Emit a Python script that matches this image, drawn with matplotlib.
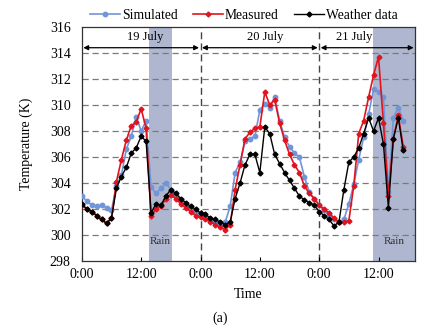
import matplotlib
matplotlib.use("Agg")
import matplotlib.pyplot as plt
import numpy as np

plt.rcParams['font.family'] = ['Liberation Serif', 'DejaVu Serif']

# hourly readings, hour 0 = 0:00 on 19 July
hours = np.arange(66)

weather = [302.4, 302.0, 301.8, 301.5, 301.2, 300.9, 301.3, 303.6, 304.5, 305.2,
           306.3, 306.7, 307.6, 307.2, 301.7, 302.4, 302.3, 303.0, 303.5, 303.2,
           302.8, 302.5, 302.2, 302.0, 301.7, 301.6, 301.3, 301.2, 301.0, 300.8,
           301.0, 302.8, 304.0, 305.4, 306.2, 306.2, 304.8, 308.3, 307.8, 306.2,
           305.5, 304.8, 304.2, 303.6, 303.0, 302.7, 302.5, 302.3, 301.8, 301.5,
           301.2, 300.7, 301.0, 303.5, 305.6, 306.0, 306.7, 307.8, 309.0, 308.0,
           309.0, 307.0, 302.1, 307.4, 309.0, 306.5]

measured = [302.3, 302.0, 301.8, 301.5, 301.2, 300.9, 301.3, 304.1, 305.8, 307.3,
            308.4, 308.7, 309.7, 308.2, 301.5, 302.0, 302.2, 302.8, 303.1, 302.8,
            302.4, 302.1, 301.8, 301.5, 301.4, 301.2, 301.0, 300.8, 300.6, 300.4,
            300.8, 303.5, 305.4, 307.4, 307.9, 308.2, 308.3, 311.0, 310.0, 310.4,
            308.6, 307.3, 306.2, 305.4, 304.8, 303.8, 303.2, 302.8, 302.3, 302.0,
            301.7, 301.3, 301.0, 301.0, 301.1, 303.8, 307.8, 308.8, 310.6, 312.3,
            313.7, 308.6, 303.0, 307.4, 309.2, 306.8]

simulated = [303.0, 302.6, 302.3, 302.2, 302.3, 302.1, 301.9, 303.8, 304.6, 306.6,
             307.6, 309.1, 308.0, 308.8, 303.7, 303.2, 303.6, 304.0, 303.5, 303.0,
             302.7, 302.3, 302.0, 301.8, 301.6, 301.4, 301.2, 301.0, 300.9, 301.0,
             302.2, 304.8, 305.6, 307.2, 307.4, 307.6, 309.6, 310.1, 309.8, 310.6,
             308.8, 307.5, 306.8, 306.3, 306.0, 304.5, 303.3, 302.8, 302.3, 301.9,
             301.6, 301.2, 301.0, 301.2, 302.4, 303.9, 305.8, 307.5, 309.3, 311.2,
             311.0, 310.6, 303.3, 309.0, 309.8, 308.8]

rain_periods = [(13.6, 18.2), (58.9, 67.4)]
days = ['19 July', '20 July', '21 July']
day_edges = [0, 24, 48, 67.4]
day_label_x = [12.8, 37, 55]
xtick_pos = [0, 12, 24, 36, 48, 60]
xtick_labels = ['0:00', '12:00', '0:00', '12:00', '0:00', '12:00']

fig = plt.figure(figsize=(4.24, 3.28), dpi=100)
ax = fig.add_axes([0.193, 0.204, 0.786, 0.714])

for a, b in rain_periods:
    ax.axvspan(a, b, color='#aeb7cf', zorder=0, lw=0)
    ax.text((a + b) / 2, 299.5, 'Rain', ha='center', va='center', fontsize=8, color='#333333')

for yv in range(300, 316, 2):
    ax.axhline(yv, color='#7a7a7a', lw=0.9, ls=(0, (5, 3)), zorder=1)
for xv in [24, 48]:
    ax.axvline(xv, color='#444444', lw=1.0, ls=(0, (5, 3)), zorder=1)

ax.plot(hours, simulated, color='#7196d8', marker='o', ms=3.2, lw=1.2, label='Simulated', zorder=3)
ax.plot(hours, measured, color='#e0141e', marker='D', ms=2.5, lw=1.2, label='Measured', zorder=4)
ax.plot(hours, weather, color='#000000', marker='D', ms=2.5, lw=1.0, label='Weather data', zorder=5)

# day arrows
for i, name in enumerate(days):
    a, b = day_edges[i], day_edges[i + 1]
    ax.annotate('', xy=(a + 0.3, 314.4), xytext=(b - 0.3, 314.4),
                arrowprops=dict(arrowstyle='<|-|>', color='black', lw=0.9,
                                mutation_scale=7, shrinkA=0, shrinkB=0))
    ax.text(day_label_x[i], 315.25, name, ha='center', va='center', fontsize=9)

ax.set_xlim(0, 67.4)
ax.set_ylim(298, 316)
ax.set_yticks(range(298, 317, 2))
ax.set_xticks(xtick_pos)
ax.set_xticklabels(xtick_labels)
ax.tick_params(axis='both', direction='in', labelsize=10, length=3)
ax.tick_params(axis='x', pad=5)
ax.tick_params(axis='y', length=0, pad=8)
for s in ax.spines.values():
    s.set_color('#333333')
    s.set_linewidth(0.9)

ax.set_xlabel('Time', fontsize=10, labelpad=5)
ax.set_ylabel('Temperature (K)', fontsize=10, labelpad=12)

fig.legend(loc='upper center', bbox_to_anchor=(0.575, 1.01), ncol=3, frameon=False,
           fontsize=9.8, handlelength=2.2, handletextpad=0.15, columnspacing=1.1)

fig.text(0.52, 0.03, '(a)', ha='center', va='center', fontsize=10)

fig.savefig('out.png', dpi=100)
